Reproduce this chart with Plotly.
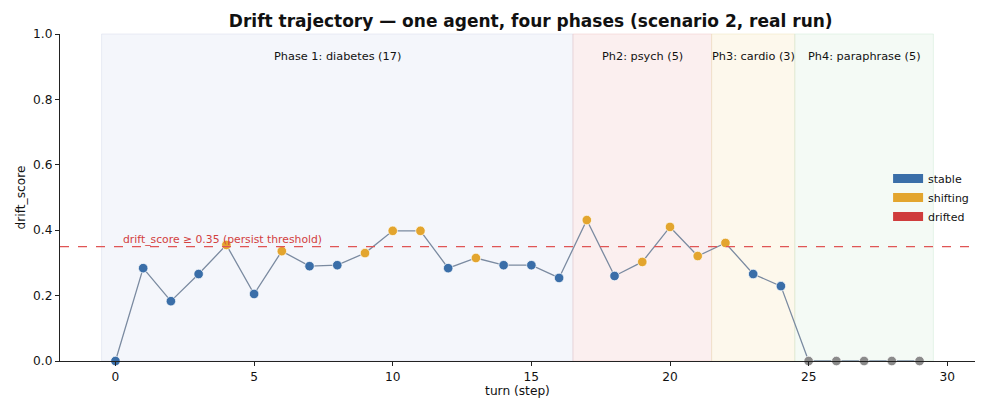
import plotly.graph_objects as go

turns = list(range(30))
drift_score = [0.0, 0.284, 0.183, 0.266, 0.355, 0.205, 0.336, 0.290, 0.293, 0.330,
               0.398, 0.398, 0.284, 0.315, 0.293, 0.293, 0.254, 0.431, 0.260, 0.303,
               0.410, 0.321, 0.361, 0.266, 0.229, 0.0, 0.0, 0.0, 0.0, 0.0]
status = ['stable', 'stable', 'stable', 'stable', 'shifting', 'stable', 'shifting', 'stable', 'stable', 'shifting',
          'shifting', 'shifting', 'stable', 'shifting', 'stable', 'stable', 'stable', 'shifting', 'stable', 'shifting',
          'shifting', 'shifting', 'shifting', 'stable', 'stable', 'none', 'none', 'none', 'none', 'none']

phase_labels = ['Phase 1: diabetes (17)', 'Ph2: psych (5)', 'Ph3: cardio (3)', 'Ph4: paraphrase (5)']
phase_start = [-0.5, 16.5, 21.5, 24.5]
phase_end = [16.5, 21.5, 24.5, 29.5]
phase_fill = ['rgba(220,228,242,0.32)', 'rgba(240,190,190,0.25)', 'rgba(246,228,180,0.25)', 'rgba(200,230,205,0.2)']
phase_edge = ['rgba(215,222,238,0.5)', 'rgba(240,200,200,0.5)', 'rgba(240,228,190,0.5)', 'rgba(210,235,215,0.5)']

threshold = 0.35

status_colors = {'stable': '#3a6ea8', 'shifting': '#e3a52e', 'drifted': '#cf3c3c', 'none': '#8a8a8a'}

fig = go.Figure()

# phase bands
for s, e, c, ec, lab in zip(phase_start, phase_end, phase_fill, phase_edge, phase_labels):
    fig.add_vrect(x0=s, x1=e, fillcolor=c, line=dict(color=ec, width=1), layer='below')
    fig.add_annotation(x=(s + e) / 2, y=0.93, text=lab, showarrow=False,
                       font=dict(size=11.3, color='#111'))

# threshold
fig.add_hline(y=threshold, line=dict(color='#e05555', width=1.2, dash='dash'))
fig.add_annotation(x=0.3, y=threshold, text='drift_score ≥ 0.35 (persist threshold)',
                   showarrow=False, xanchor='left', yanchor='bottom', yshift=-1, xshift=-3,
                   font=dict(size=10.8, color='#d24040'))

# trajectory
fig.add_trace(go.Scatter(x=turns, y=drift_score, mode='lines',
                         line=dict(color='#7a8aa0', width=1.3), showlegend=False))
fig.add_trace(go.Scatter(x=turns, y=drift_score, mode='markers',
                         marker=dict(size=9.5, color=[status_colors[s] for s in status],
                                     line=dict(color='white', width=0.7)),
                         showlegend=False, cliponaxis=False))

# legend patches
for name in ['stable', 'shifting', 'drifted']:
    fig.add_trace(go.Scatter(x=[None], y=[None], mode='lines', name=name,
                             line=dict(color=status_colors[name], width=9)))

# page body has an 8px margin, so margins are shifted by that
fig.update_layout(
    width=990, height=414,
    margin=dict(l=52, r=23, t=26, b=61),
    paper_bgcolor='white', plot_bgcolor='white',
    font=dict(family='DejaVu Sans', size=12, color='#111'),
    title=dict(text='<b>Drift trajectory — one agent, four phases (scenario 2, real run)</b>',
               x=0.528, xanchor='center', y=0.968, yanchor='middle', font=dict(size=17)),
    xaxis=dict(title=dict(text='turn (step)', standoff=3, font=dict(size=12.2)), range=[-2, 31],
               tickvals=[0, 5, 10, 15, 20, 25, 30], tickfont=dict(size=12.2), automargin=False,
               showgrid=False, zeroline=False, showline=True, linecolor='#222', linewidth=1.1,
               ticks='outside', ticklen=4, tickcolor='#222'),
    yaxis=dict(title=dict(text='drift_score', standoff=4, font=dict(size=12.2)), range=[0, 1],
               tickvals=[0, 0.2, 0.4, 0.6, 0.8, 1.0], tickfont=dict(size=12.2), automargin=False,
               tickformat='.1f', showgrid=False, zeroline=False, showline=True, linecolor='#222', linewidth=1.1,
               ticks='outside', ticklen=4, tickcolor='#222'),
    legend=dict(x=0.905, y=0.5, xanchor='left', yanchor='middle', bgcolor='rgba(255,255,255,0)',
                font=dict(size=11), itemwidth=30, tracegroupgap=0),
)

fig.write_html("out.html")
